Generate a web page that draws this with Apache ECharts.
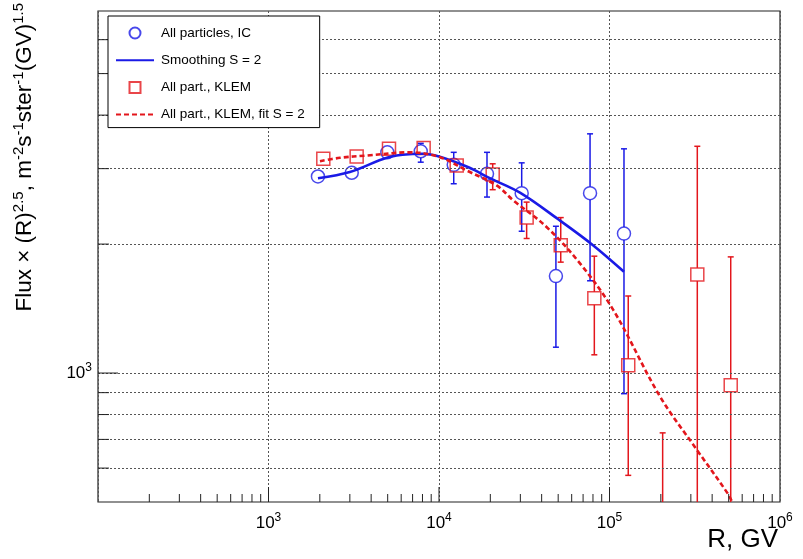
<!DOCTYPE html>
<html><head><meta charset="utf-8">
<script src="https://cdn.jsdelivr.net/npm/echarts@6/dist/echarts.min.js"></script>
<style>html,body{margin:0;padding:0;background:#fff}#c{width:803px;height:559px}</style>
</head><body><div id="c"></div>
<script>
// ---- data ----
const icR  = [1950, 3077, 4977, 7816, 12200, 19120, 30550, 48500, 76900, 121600];
const icF  = [2876, 2934, 3275, 3293, 3062, 2918, 2630, 1684, 2630, 2116];
const icUp = [null, null, null, 3437, 3275, 3275, 3095, 2201, 3617, 3337];
const icLo = [null, null, null, 3106, 2766, 2575, 2143, 1149, 1642, 895];

const smR = [1950, 3000, 5000, 7000, 8000, 10000, 15000, 20000, 30000, 50000, 80000, 121600];
const smF = [2850, 2947, 3185, 3245, 3250, 3202, 3018, 2846, 2633, 2285, 1988, 1723];

const klR  = [2096, 3289, 5090, 8128, 12700, 20650, 32660, 51760, 81470, 128800, 205000, 327300, 514000];
const klF  = [3162, 3202, 3337, 3350, 3051, 2907, 2306, 1988, 1494, 1043, 380, 1699, 936];
const klUp = [null, null, null, null, null, 3079, 2506, 2306, 1874, 1513, 725, 3383, 1867];
const klLo = [null, null, null, null, null, 2679, 2061, 1815, 1103, 577, 200, 200, 200];

const fitR = [2004, 2624, 3767, 6760, 10140, 14530, 21770, 27290, 42730, 67100, 105200, 197600, 324500, 497400, 523000];
const fitF = [3122, 3180, 3219, 3275, 3190, 2970, 2741, 2529, 2193, 1803, 1404, 882, 663, 521, 500];

const gridYValues = [600, 700, 800, 900, 1000, 2000, 3000, 4000, 5000, 6000];
const xMin = 100, xMax = 1e6, yMin = 500, yMax = 7000;
const names = ['All particles, IC', 'Smoothing S = 2', 'All part., KLEM', 'All part., KLEM, fit S = 2'];

const BLUE = '#1a1ae6', RED = '#e3161c', FONT = 'Liberation Sans, Arial, Helvetica, sans-serif';

function isPow10(v) { const l = Math.log10(v); return Math.abs(l - Math.round(l)) < 1e-6; }

function errRender(color, gap) {
  return function (params, api) {
    const x = api.value(0);
    const c = api.coord([x, api.value(1)]);
    const lo = api.coord([x, api.value(2)]);
    const hi = api.coord([x, api.value(3)]);
    const st = { stroke: color, lineWidth: 1.5 };
    const ch = [];
    if (hi[1] < c[1] - gap) ch.push({ type: 'line', shape: { x1: c[0], y1: c[1] - gap, x2: hi[0], y2: hi[1] }, style: st });
    if (lo[1] > c[1] + gap) ch.push({ type: 'line', shape: { x1: c[0], y1: c[1] + gap, x2: lo[0], y2: lo[1] }, style: st });
    ch.push({ type: 'line', shape: { x1: hi[0] - 3, y1: hi[1], x2: hi[0] + 3, y2: hi[1] }, style: st });
    ch.push({ type: 'line', shape: { x1: lo[0] - 3, y1: lo[1], x2: lo[0] + 3, y2: lo[1] }, style: st });
    return { type: 'group', children: ch };
  };
}

const gridLine = { color: '#555', type: [2, 2], width: 1 };
const hidden = { color: 'rgba(0,0,0,0)', borderColor: 'rgba(0,0,0,0)', borderWidth: 0 };

const chart = echarts.init(document.getElementById('c'));
chart.setOption({
  animation: false,
  backgroundColor: '#fff',
  grid: { left: 98, right: 23, top: 11, bottom: 57, show: true, borderColor: '#222', borderWidth: 1.2, backgroundColor: 'transparent', containLabel: false, outerBoundsMode: 'none' },
  legend: {
    orient: 'vertical', left: 108, top: 16, padding: [10, 15, 6, 7], itemGap: 13.2, itemWidth: 38, itemHeight: 11,
    backgroundColor: '#fff', borderColor: '#000', borderWidth: 1, borderRadius: 0, selectedMode: false, z: 10,
    symbolKeepAspect: true,
    textStyle: { fontFamily: FONT, fontSize: 13.5, color: '#000', lineHeight: 11, padding: [0, 0, 0, 2] },
    data: [
      { name: names[0], icon: 'circle' },
      { name: names[1], itemStyle: hidden },
      { name: names[2], icon: 'path://M0,0L10,0L10,10L0,10Z' },
      { name: names[3], itemStyle: hidden }
    ]
  },
  xAxis: {
    type: 'log', logBase: 10, min: xMin, max: xMax,
    axisLine: { show: false }, axisTick: { show: false },
    splitLine: { show: true, lineStyle: gridLine },
    axisLabel: {
      margin: 10,
      formatter: v => (isPow10(v) && Math.round(Math.log10(v)) > 2) ? '{b|10}{s|' + Math.round(Math.log10(v)) + '}' : '',
      rich: {
        b: { fontFamily: FONT, fontSize: 17, lineHeight: 22, color: '#000' },
        s: { fontFamily: FONT, fontSize: 12, lineHeight: 12, verticalAlign: 'top', color: '#000' }
      }
    }
  },
  yAxis: {
    type: 'log', logBase: 10, min: yMin, max: yMax,
    axisLine: { show: false }, axisTick: { show: false }, splitLine: { show: false },
    axisLabel: {
      margin: 6,
      formatter: v => isPow10(v) ? '{b|10}{s|' + Math.round(Math.log10(v)) + '}' : '',
      rich: {
        b: { fontFamily: FONT, fontSize: 17, lineHeight: 22, color: '#000' },
        s: { fontFamily: FONT, fontSize: 12, lineHeight: 12, verticalAlign: 'top', color: '#000' }
      }
    }
  },
  series: [
    {
      name: 'gridlines', type: 'line', data: [], silent: true, z: 1,
      markLine: { silent: true, symbol: 'none', label: { show: false }, lineStyle: gridLine, animation: false,
        data: gridYValues.map(v => ({ yAxis: v })) }
    },
    {
      name: 'icErr', type: 'custom', clip: true, z: 3,
      data: icR.map((r, i) => [r, icF[i], icLo[i], icUp[i]]).filter(d => d[2] != null),
      encode: { x: 0, y: [1, 2, 3] },
      renderItem: errRender(BLUE, 6.5)
    },
    {
      name: 'klErr', type: 'custom', clip: true, z: 3,
      data: klR.map((r, i) => [r, klF[i], klLo[i], klUp[i]]).filter(d => d[2] != null),
      encode: { x: 0, y: [1, 2, 3] },
      renderItem: errRender(RED, 6.5)
    },
    {
      name: names[0], type: 'scatter', symbol: 'circle', symbolSize: 13, clip: true, z: 4,
      itemStyle: { color: 'rgba(255,255,255,0)', borderColor: BLUE, borderWidth: 1.5 },
      data: icR.map((r, i) => [r, icF[i]])
    },
    {
      name: names[2], type: 'scatter', symbol: 'rect', symbolSize: 13, clip: true, z: 4,
      itemStyle: { color: 'rgba(255,255,255,0)', borderColor: RED, borderWidth: 1.5 },
      data: klR.map((r, i) => [r, klF[i]])
    },
    {
      name: names[1], type: 'line', symbol: 'none', showSymbol: false, smooth: 0.35, z: 5,
      lineStyle: { color: BLUE, width: 2.6 }, itemStyle: { color: BLUE },
      data: smR.map((r, i) => [r, smF[i]])
    },
    {
      name: names[3], type: 'line', symbol: 'none', showSymbol: false, smooth: 0.35, clip: true, z: 5,
      lineStyle: { color: RED, width: 2.6, type: [5, 3] }, itemStyle: { color: RED },
      data: fitR.map((r, i) => [r, fitF[i]])
    }
  ]
});

// ---- inward ticks (ROOT style), placed through the axis scales ----
const els = [];
const tickStyle = { stroke: '#222', lineWidth: 1 };
for (let n = 2; n <= 5; n++) {
  for (let k = 1; k <= 9; k++) {
    const v = k * Math.pow(10, n);
    if (v <= xMin || v >= xMax) continue;
    const p = chart.convertToPixel({ gridIndex: 0 }, [v, yMin]);
    const len = k === 1 ? 15 : 8;
    els.push({ type: 'line', z: 6, shape: { x1: p[0], y1: p[1], x2: p[0], y2: p[1] - len }, style: tickStyle, silent: true });
  }
}
gridYValues.forEach(v => {
  const p = chart.convertToPixel({ gridIndex: 0 }, [xMin, v]);
  const len = isPow10(v) ? 20 : 11;
  els.push({ type: 'line', z: 6, shape: { x1: p[0], y1: p[1], x2: p[0] + len, y2: p[1] }, style: tickStyle, silent: true });
});

// ---- axis titles ----
els.push({
  type: 'text', x: 25, y: 3, rotation: Math.PI / 2, z: 6, silent: true,
  style: {
    text: '{a|Flux × (R)}{s|2.5}{a|, m}{s|-2}{a|s}{s|-1}{a|ster}{s|-1}{a|(GV)}{s|1.5}',
    textAlign: 'right', textVerticalAlign: 'middle',
    rich: {
      a: { fontFamily: FONT, fontSize: 22.5, lineHeight: 28, fill: '#000' },
      s: { fontFamily: FONT, fontSize: 15, lineHeight: 15, verticalAlign: 'top', fill: '#000' }
    }
  }
});
els.push({
  type: 'text', right: 25, top: 527, z: 6, silent: true,
  style: { text: 'R, GV', fontFamily: FONT, fontSize: 26, fill: '#000' }
});
chart.setOption({ graphic: els });
</script>
</body></html>
